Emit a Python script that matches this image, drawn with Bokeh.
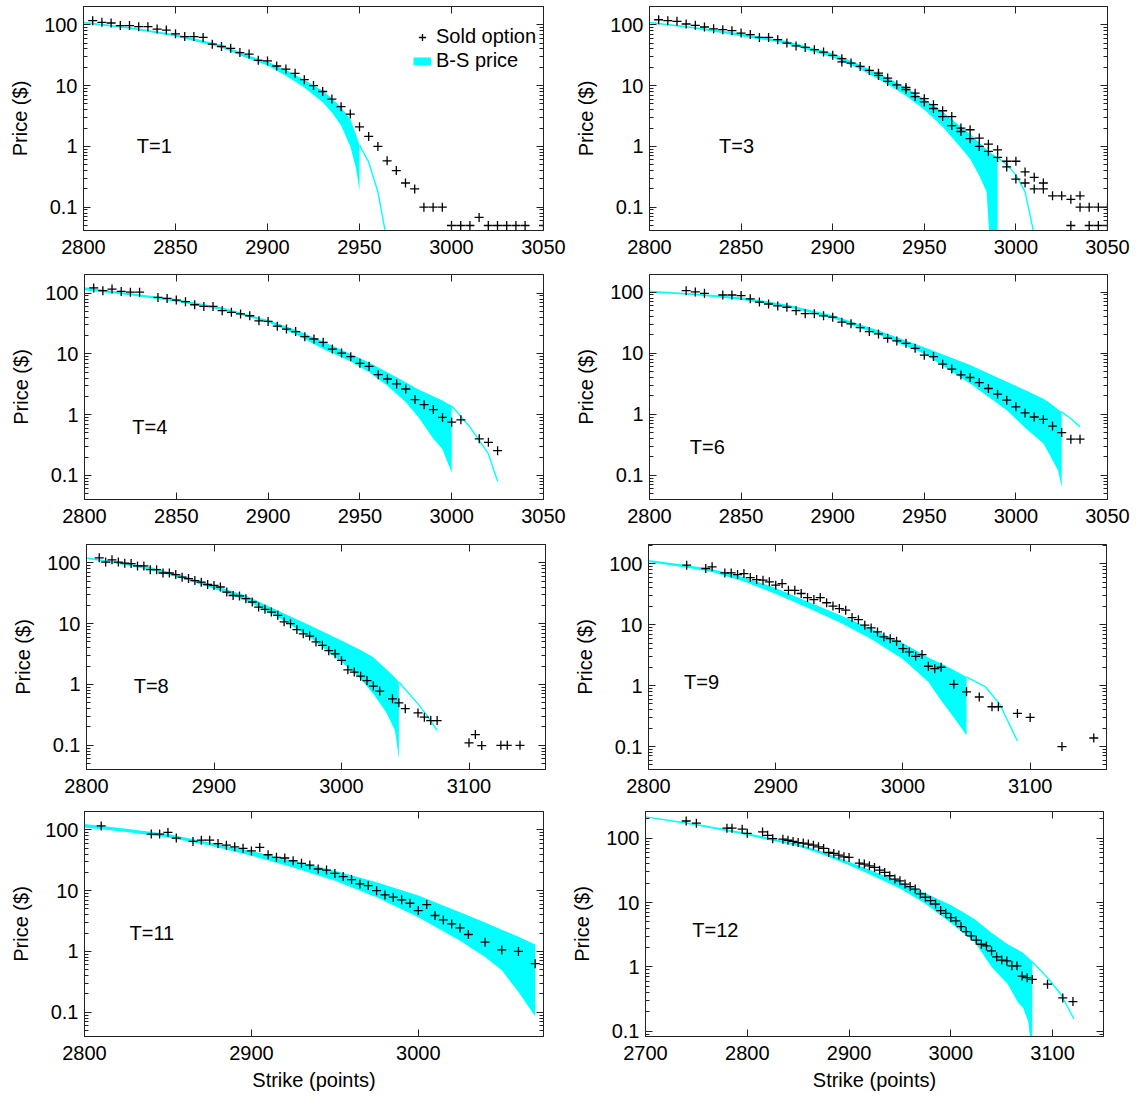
from bokeh.plotting import figure
from bokeh.models import (FixedTicker, LogAxis, LinearAxis, Label, Legend, LegendItem,
                          CustomJSTickFormatter)
from bokeh.layouts import column, row
from bokeh.embed import file_html
from bokeh.resources import INLINE

FONT = "Liberation Sans"
FS = "20px"
CYAN = "#00FFFF"

# ---------------- data ----------------
# T=1
strike_T1 = [2805, 2810, 2815, 2820, 2825, 2830, 2835, 2840, 2845, 2850, 2855, 2860, 2865, 2870, 2875,
             2880, 2885, 2890, 2895, 2900, 2905, 2910, 2915, 2920, 2925, 2930, 2935, 2940, 2945, 2950,
             2955, 2960, 2965, 2970, 2975, 2980, 2985, 2990, 2995, 3000, 3005, 3010, 3015, 3020, 3025,
             3030, 3035, 3040, 3050]
sold_T1 = [117, 110, 107, 97, 97, 93, 93, 85, 82, 71, 64, 64, 62, 48, 44, 41, 35, 33, 26, 25.5,
           21, 18.7, 15.9, 12.5, 10, 8.0, 6.0, 4.5, 3.4, 2.1, 1.46, 1.0, 0.58, 0.4, 0.25, 0.2, 0.1, 0.1,
           0.1, 0.05, 0.05, 0.05, 0.068, 0.05, 0.05, 0.05, 0.05, 0.05, 0.05]
bs_strike_T1 = [2800, 2825, 2850, 2875, 2890, 2900, 2910, 2920, 2930, 2935, 2940, 2945, 2948, 2950]
bs_high_T1 = [112, 92, 70, 47, 31, 25, 18, 12.5, 8.2, 6.2, 4.4, 2.8, 1.6, 1.05]
bs_low_T1 = [105, 86, 64, 42, 27.5, 21.5, 14.5, 9.3, 5.3, 3.6, 2.2, 1.0, 0.45, 0.19]
tail_strike_T1 = [2950, 2955, 2960, 2964]
tail_T1 = [1.05, 0.55, 0.18, 0.04]

# T=3
strike_T3 = [2805, 2810, 2815, 2820, 2825, 2830, 2835, 2840, 2845, 2850, 2855, 2860, 2865, 2870, 2875,
             2880, 2885, 2890, 2895, 2900, 2905, 2905, 2910, 2915, 2920, 2925, 2925, 2930, 2930, 2935,
             2940, 2940, 2945, 2945, 2950, 2950, 2955, 2955, 2960, 2960, 2965, 2965, 2970, 2970, 2975,
             2975, 2980, 2980, 2985, 2985, 2990, 2990, 2995, 2995, 3000, 3000, 3005, 3005, 3010, 3010,
             3015, 3015, 3020, 3025, 3030, 3030, 3035, 3035, 3040, 3040, 3045, 3045, 3050, 3050]
sold_T3 = [121, 117, 114, 103, 98, 92, 86, 83, 80, 73, 69, 62, 62, 57, 50, 45, 42.5, 39, 35.6, 31.5,
           27.7, 24.5, 23.5, 20.7, 17.8, 16, 14.7, 13.3, 11.7, 10.3, 9.3, 8.6, 7.5, 6.6, 6.1, 5.4, 4.85,
           4.2, 3.86, 3.1, 3.1, 2.2, 2.0, 1.76, 1.88, 1.34, 1.37, 1.0, 1.09, 0.83, 0.88, 0.66, 0.57, 0.46,
           0.57, 0.29, 0.38, 0.25, 0.31, 0.2, 0.25, 0.2, 0.154, 0.154, 0.135, 0.05, 0.154, 0.1, 0.1, 0.05,
           0.1, 0.05, 0.1, 0.05]
bs_strike_T3 = [2800, 2825, 2850, 2875, 2900, 2915, 2930, 2940, 2950, 2960, 2970, 2975, 2980, 2984, 2986, 2990]
bs_high_T3 = [112, 92, 72, 54, 34, 22, 13.5, 9.3, 6.0, 3.7, 2.1, 1.6, 1.15, 0.9, 0.8, 0.66]
bs_low_T3 = [106, 86, 65, 49, 29, 18.5, 10.5, 6.8, 4.0, 2.1, 0.95, 0.62, 0.33, 0.18, 0.02, 0.02]
tail_strike_T3 = [2990, 2995, 3000, 3005, 3010]
tail_T3 = [0.66, 0.5, 0.34, 0.18, 0.035]

# T=4
strike_T4 = [2805, 2810, 2815, 2820, 2825, 2830, 2840, 2845, 2850, 2855, 2860, 2865, 2870, 2875, 2880,
             2885, 2890, 2895, 2900, 2905, 2910, 2915, 2920, 2925, 2930, 2935, 2940, 2945, 2950, 2955,
             2960, 2965, 2970, 2975, 2980, 2985, 2990, 2995, 3000, 3005, 3015, 3020, 3025]
sold_T4 = [122, 110, 117, 107, 104, 104, 85, 82, 77, 72.5, 64.5, 60.5, 60.5, 51.5, 48.4, 45.5, 42.5,
           35, 34.3, 28.6, 25.6, 23.3, 19.2, 17.6, 15.5, 12, 10.3, 9, 7, 6.25, 4.55, 3.86, 3.2, 2.64,
           1.77, 1.46, 1.21, 0.9, 0.75, 0.82, 0.4, 0.35, 0.255]
bs_strike_T4 = [2800, 2825, 2850, 2875, 2900, 2915, 2930, 2945, 2955, 2965, 2975, 2982, 2990, 2995, 3000]
bs_high_T4 = [125, 100, 80, 58, 36, 25, 16, 10, 7.2, 5.0, 3.4, 2.6, 2.0, 1.7, 1.4]
bs_low_T4 = [112, 92, 72, 53, 33, 21, 12, 7.5, 5.0, 3.0, 1.6, 0.9, 0.4, 0.27, 0.11]
tail_strike_T4 = [3000, 3010, 3020, 3025]
tail_T4 = [1.4, 0.62, 0.225, 0.08]

# T=6
strike_T6 = [2820, 2825, 2830, 2840, 2845, 2850, 2855, 2860, 2865, 2870, 2875, 2880, 2885, 2890, 2895,
             2900, 2905, 2910, 2915, 2920, 2925, 2930, 2935, 2940, 2945, 2950, 2955, 2960, 2965, 2970,
             2975, 2980, 2985, 2990, 2995, 3000, 3005, 3010, 3015, 3020, 3025, 3030, 3035]
sold_T6 = [106, 101, 96, 90, 90, 88, 78, 69, 64, 59.5, 56.7, 49.8, 44.4, 44.4, 41, 38.9, 32.2, 30.4,
           26.2, 22.6, 20.7, 17.6, 15.9, 14.5, 12, 9.3, 8.8, 6.6, 5.5, 4.4, 4.0, 3.3, 2.64, 2.13, 1.7,
           1.32, 1.05, 0.9, 0.82, 0.64, 0.5, 0.39, 0.39]
bs_strike_T6 = [2800, 2825, 2850, 2875, 2900, 2925, 2950, 2975, 2995, 3005, 3015, 3019, 3023, 3025]
bs_high_T6 = [106, 95, 83, 63, 42, 23.5, 12.5, 6.4, 3.4, 2.5, 1.8, 1.5, 1.2, 1.09]
bs_low_T6 = [99, 89, 75, 57, 37.5, 20, 9.8, 3.2, 1.16, 0.6, 0.33, 0.2, 0.12, 0.064]
tail_strike_T6 = [3025, 3030, 3035]
tail_T6 = [1.09, 0.85, 0.62]

# T=8
strike_T8 = [2810, 2815, 2820, 2825, 2830, 2835, 2840, 2845, 2850, 2855, 2860, 2865, 2870, 2875, 2880,
             2885, 2890, 2895, 2900, 2905, 2910, 2915, 2920, 2925, 2930, 2935, 2940, 2945, 2950, 2955,
             2960, 2965, 2970, 2975, 2980, 2985, 2990, 2995, 3000, 3005, 3010, 3015, 3020, 3025, 3030,
             3040, 3045, 3050, 3060, 3065, 3070, 3075, 3100, 3105, 3110, 3125, 3130, 3140]
sold_T8 = [121, 103, 112, 103, 98.7, 97, 89, 89, 77, 77, 68, 68, 64, 58, 55, 51, 48, 44, 42.5, 40,
           33, 29, 28.5, 25.7, 22.7, 18.7, 17.2, 15.5, 13.7, 10.7, 10, 8.0, 6.8, 6.25, 5.0, 4.4, 3.6,
           3.2, 2.48, 1.74, 1.6, 1.37, 1.16, 0.94, 0.78, 0.58, 0.5, 0.4, 0.34, 0.29, 0.255, 0.255,
           0.11, 0.15, 0.099, 0.1, 0.1, 0.1]
bs_strike_T8 = [2800, 2825, 2850, 2875, 2900, 2925, 2950, 2975, 3000, 3015, 3025, 3035, 3042, 3045]
bs_high_T8 = [124, 103, 85, 62, 42.5, 29, 16.5, 9.4, 5.3, 3.7, 2.8, 1.8, 1.3, 1.1]
bs_low_T8 = [117, 96, 77, 55, 37.6, 24, 12.8, 6.0, 2.33, 1.24, 0.7, 0.35, 0.175, 0.06]
tail_strike_T8 = [3045, 3060, 3068, 3075]
tail_T8 = [1.1, 0.48, 0.29, 0.175]

# T=9
strike_T9 = [2830, 2845, 2850, 2860, 2865, 2870, 2875, 2880, 2885, 2890, 2895, 2900, 2905, 2910, 2915,
             2920, 2925, 2930, 2935, 2940, 2945, 2950, 2955, 2960, 2965, 2970, 2975, 2980, 2985, 2990,
             2995, 3000, 3005, 3010, 3015, 3020, 3025, 3030, 3040, 3050, 3060, 3070, 3075, 3090, 3100,
             3125, 3150]
sold_T9 = [94.6, 83.6, 89, 70.6, 70.6, 66.4, 69, 59.2, 55, 53.7, 50.5, 44.5, 47.3, 36.7, 36.7, 32.5,
           27.9, 25.8, 27.9, 22.9, 20.2, 18.4, 17.3, 13.1, 12.1, 9.8, 8.85, 7.6, 6.3, 5.9, 5.35, 4.05,
           3.57, 3.03, 3.23, 2.08, 1.9, 2.0, 1.05, 0.79, 0.65, 0.45, 0.45, 0.35, 0.30, 0.1, 0.138]
bs_strike_T9 = [2800, 2825, 2850, 2875, 2900, 2925, 2950, 2975, 3000, 3020, 3030, 3040, 3050]
bs_high_T9 = [115, 98, 82, 60, 40, 24, 14.5, 8.6, 5.0, 2.9, 2.3, 1.8, 1.39]
bs_low_T9 = [107, 89, 73, 51, 32, 19, 11, 5.8, 2.7, 1.15, 0.57, 0.3, 0.153]
tail_strike_T9 = [3050, 3065, 3076, 3090]
tail_T9 = [1.39, 0.95, 0.5, 0.123]

# T=11
strike_T11 = [2810, 2840, 2845, 2850, 2855, 2865, 2870, 2875, 2880, 2885, 2890, 2895, 2900, 2905, 2910,
              2915, 2920, 2925, 2930, 2935, 2940, 2945, 2950, 2955, 2960, 2965, 2970, 2975, 2980, 2985,
              2990, 2995, 3000, 3005, 3010, 3015, 3020, 3025, 3030, 3040, 3050, 3060, 3070]
sold_T11 = [116, 85, 85, 90.5, 73, 64.5, 67.5, 67.5, 59.4, 56, 52.6, 49.6, 45, 51.4, 38.9, 35.3, 34.4,
            31.0, 28.1, 26.3, 22.7, 21.8, 19.2, 17.0, 15.2, 12.9, 12.1, 10.0, 8.5, 7.8, 7.05, 6.2, 4.7,
            5.9, 3.9, 3.3, 2.84, 2.44, 1.9, 1.42, 1.06, 1.0, 0.63]
bs_strike_T11 = [2800, 2825, 2850, 2875, 2900, 2925, 2950, 2975, 3000, 3025, 3040, 3050, 3060, 3070]
bs_high_T11 = [125, 104, 85, 62, 45, 31, 21.3, 13.7, 8.3, 4.4, 3.0, 2.27, 1.75, 1.3]
bs_low_T11 = [109, 92, 75, 55, 37.4, 24, 14.6, 7.8, 3.66, 1.5, 0.81, 0.49, 0.216, 0.086]
tail_strike_T11 = []
tail_T11 = []

# T=12
strike_T12 = [2740, 2750, 2780, 2785, 2795, 2800, 2815, 2820, 2825, 2835, 2840, 2845, 2850, 2855, 2860,
              2865, 2870, 2875, 2880, 2885, 2890, 2895, 2900, 2910, 2915, 2920, 2925, 2930, 2935, 2940,
              2945, 2950, 2955, 2960, 2965, 2970, 2975, 2980, 2985, 2990, 2995, 3000, 3005, 3010, 3015,
              3020, 3025, 3030, 3035, 3040, 3045, 3050, 3055, 3060, 3065, 3070, 3075, 3080, 3095, 3110,
              3120]
sold_T12 = [185, 171, 143, 143, 138, 119, 125, 111, 98.5, 96.6, 93, 89, 85.6, 84, 81, 78, 73.5, 69.4,
            60, 58, 54.6, 51.4, 50.3, 41, 39.6, 37.2, 35.1, 31.9, 29.4, 26.1, 23.2, 21.8, 19.4, 17.7,
            16.2, 13.6, 12.1, 10.75, 9.5, 7.5, 6.8, 5.85, 5.2, 4.24, 3.54, 3.03, 2.6, 2.25, 2.12, 1.77,
            1.43, 1.28, 1.24, 1.04, 1.04, 0.72, 0.68, 0.64, 0.54, 0.33, 0.29]
bs_strike_T12 = [2700, 2750, 2800, 2850, 2875, 2900, 2925, 2950, 2975, 3000, 3023, 3040, 3056, 3066,
                 3071, 3076, 3078, 3080]
bs_high_T12 = [220, 168, 120, 81, 61, 43, 30, 21, 14, 9.2, 5.6, 3.4, 2.25, 1.85, 1.65, 1.4, 1.3, 1.24]
bs_low_T12 = [209, 157, 111, 75, 55, 38, 25.5, 16.5, 9.6, 4.8, 2.5, 1.0, 0.54, 0.28, 0.23, 0.143, 0.077, 0.05]
tail_strike_T12 = [3080, 3095, 3108, 3121]
tail_T12 = [1.2, 0.68, 0.38, 0.155]

x_ticks_50 = [2800, 2850, 2900, 2950, 3000, 3050]
x_ticks_100 = [2800, 2900, 3000, 3100]
x_ticks_T11 = [2800, 2900, 3000]
x_ticks_T12 = [2700, 2800, 2900, 3000, 3100]
y_ticks = [0.1, 1, 10, 100]
y_minor = [m * 10.0 ** e for e in (-2, -1, 0, 1, 2) for m in (2, 3, 4, 5, 6, 7, 8, 9)]

BLANK = CustomJSTickFormatter(code="return '';")


def style_axis(ax, label_standoff=7):
    ax.major_label_text_font = FONT
    ax.major_label_text_font_size = FS
    ax.major_label_text_color = "black"
    ax.axis_label_text_font = FONT
    ax.axis_label_text_font_size = FS
    ax.axis_label_text_font_style = "normal"
    ax.axis_label_text_color = "black"
    ax.major_tick_in = 7
    ax.major_tick_out = 0
    ax.minor_tick_in = 4
    ax.minor_tick_out = 0
    ax.major_tick_line_color = "#222222"
    ax.minor_tick_line_color = "#222222"
    ax.axis_line_color = "#222222"
    ax.major_label_standoff = label_standoff


def mirror(ax):
    ax.formatter = BLANK
    ax.major_label_text_font = FONT
    ax.major_label_text_font_size = "1px"
    ax.major_label_text_color = None
    ax.major_label_standoff = 0
    ax.major_tick_in = 7
    ax.major_tick_out = 0
    ax.minor_tick_in = 4
    ax.minor_tick_out = 0
    ax.major_tick_line_color = "#222222"
    ax.minor_tick_line_color = "#222222"
    ax.axis_line_color = "#222222"


def bs_key_line(p):
    # legend key only: a thick cyan bar drawn at the band's first point
    return p.line(x=bs_strike_T1[:1], y=bs_high_T1[:1], line_color=CYAN, line_width=8)


def panel(name, k, v, bk, bhi, blo, tk, tv, xr, yr, xt, lab, w, h, bl, br, bt, bb,
          xlabel=False, legend=False):
    p = figure(width=w, height=h, x_range=xr, y_range=yr, y_axis_type="log",
               output_backend="svg", toolbar_location=None,
               min_border_left=bl, min_border_right=br, min_border_top=bt, min_border_bottom=bb)
    p.xgrid.visible = False
    p.ygrid.visible = False
    p.outline_line_color = "#222222"
    p.outline_line_width = 1
    p.background_fill_color = "white"
    p.border_fill_color = "white"

    p.varea(x=bk, y1=blo, y2=bhi, fill_color=CYAN, fill_alpha=1.0)
    if tk:
        p.line(tk, tv, line_color=CYAN, line_width=1.4)
    sc = p.scatter(k, v, marker="cross", size=9, line_color="black", line_width=1.3)

    xa = p.xaxis[0]
    ya = p.yaxis[0]
    style_axis(xa, 9)
    style_axis(ya, 6)
    xa.ticker = FixedTicker(ticks=xt, minor_ticks=[])
    ya.ticker = FixedTicker(ticks=y_ticks, minor_ticks=y_minor)
    ya.formatter = CustomJSTickFormatter(code="return String(tick);")
    ya.axis_label = "Price ($)"
    ya.axis_label_standoff = 10
    if xlabel:
        xa.axis_label = "Strike (points)"
        xa.axis_label_standoff = 6

    top = LinearAxis(ticker=FixedTicker(ticks=xt, minor_ticks=[]))
    mirror(top)
    p.add_layout(top, "above")
    right = LogAxis(ticker=FixedTicker(ticks=y_ticks, minor_ticks=y_minor))
    mirror(right)
    p.add_layout(right, "right")

    p.add_layout(Label(x=lab[0], y=lab[1], text=name, text_font=FONT, text_font_size=FS,
                       text_color="black", text_baseline="middle", text_align="left"))

    if legend:
        leg = Legend(items=[LegendItem(label="Sold option", renderers=[sc]),
                            LegendItem(label="B-S price", renderers=[bs_key_line(p)])],
                     location=(330, 158), padding=0, margin=0, spacing=1,
                     glyph_width=18, glyph_height=20, label_height=20, label_standoff=5,
                     label_text_font=FONT, label_text_font_size=FS, label_text_color="black",
                     border_line_alpha=0, background_fill_alpha=0)
        p.add_layout(leg)
    return p


WL, WR = 568, 573
H1, H2, H3, H4 = 262, 270, 270, 294

p1 = panel("T=1", strike_T1, sold_T1, bs_strike_T1, bs_high_T1, bs_low_T1, tail_strike_T1, tail_T1,
           (2800, 3050), (0.0414, 200), x_ticks_50, (2829, 1.0), WL, H1, 83, 25, 6, 32, legend=True)
p2 = panel("T=3", strike_T3, sold_T3, bs_strike_T3, bs_high_T3, bs_low_T3, tail_strike_T3, tail_T3,
           (2800, 3050), (0.0414, 200), x_ticks_50, (2838, 1.03), WR, H1, 81, 34, 6, 32)
p3 = panel("T=4", strike_T4, sold_T4, bs_strike_T4, bs_high_T4, bs_low_T4, tail_strike_T4, tail_T4,
           (2800, 3050), (0.04, 203), x_ticks_50, (2826, 0.62), WL, H2, 84, 25, 12, 33)
p4 = panel("T=6", strike_T6, sold_T6, bs_strike_T6, bs_high_T6, bs_low_T6, tail_strike_T6, tail_T6,
           (2800, 3050), (0.04, 195), x_ticks_50, (2822, 0.29), WR, H2, 81, 34, 12, 33)
p5 = panel("T=8", strike_T8, sold_T8, bs_strike_T8, bs_high_T8, bs_low_T8, tail_strike_T8, tail_T8,
           (2800, 3160), (0.04, 200), x_ticks_100, (2837, 0.96), WL, H3, 86, 23, 12, 33)
p6 = panel("T=9", strike_T9, sold_T9, bs_strike_T9, bs_high_T9, bs_low_T9, tail_strike_T9, tail_T9,
           (2800, 3160), (0.042, 207), x_ticks_100, (2828, 1.15), WR, H3, 80, 35, 12, 33)
p7 = panel("T=11", strike_T11, sold_T11, bs_strike_T11, bs_high_T11, bs_low_T11, tail_strike_T11, tail_T11,
           (2800, 3075), (0.04, 200), x_ticks_T11, (2827, 2.0), WL, H4, 84, 25, 9, 60, xlabel=True)
p8 = panel("T=12", strike_T12, sold_T12, bs_strike_T12, bs_high_T12, bs_low_T12, tail_strike_T12, tail_T12,
           (2700, 3150), (0.083, 260), x_ticks_T12, (2746, 3.7), WR, H4, 74, 38, 9, 60, xlabel=True)

layout = column(row(p1, p2), row(p3, p4), row(p5, p6), row(p7, p8))
open("out.html", "w").write(file_html(layout, INLINE))
